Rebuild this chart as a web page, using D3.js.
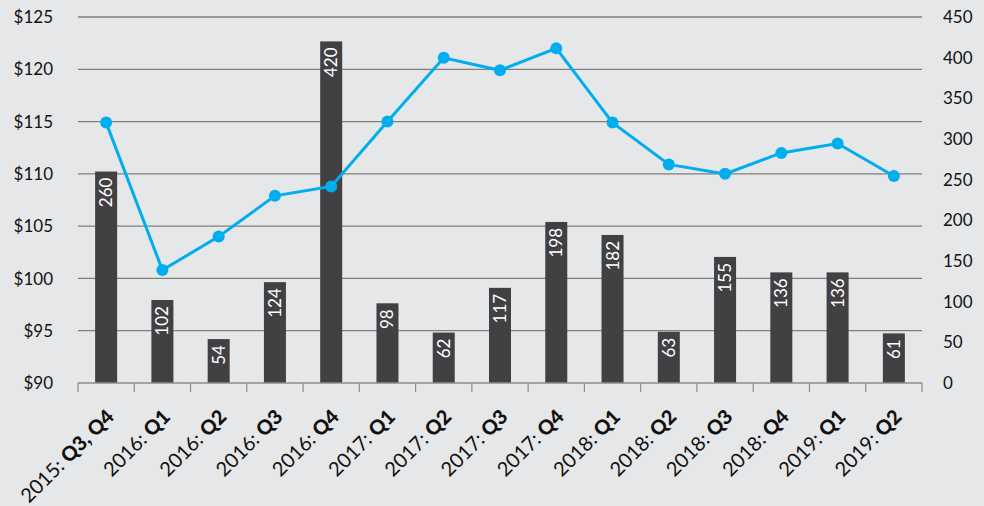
<!DOCTYPE html>
<html><head><meta charset="utf-8">
<script src="https://cdn.jsdelivr.net/npm/d3@7"></script>
<style>
html,body{margin:0;padding:0;background:#e6e7e9;}
svg{display:block;font-family:"Lato","Noto Sans",sans-serif;}
</style></head>
<body>
<svg id="c" width="984" height="506"></svg>
<script>
const yearLabels = ["2015: ","2016: ","2016: ","2016: ","2016: ","2017: ","2017: ","2017: ","2017: ","2018: ","2018: ","2018: ","2018: ","2019: ","2019: "];
const quarterLabels = ["Q3, Q4","Q1","Q2","Q3","Q4","Q1","Q2","Q3","Q4","Q1","Q2","Q3","Q4","Q1","Q2"];
const barValues = [260,102,54,124,420,98,62,117,198,182,63,155,136,136,61];
const lineValues = [114.9,100.8,104.0,107.9,108.8,115.0,121.1,119.9,122.0,114.9,110.9,110.0,112.0,112.9,109.8];
const leftTicks = [90,95,100,105,110,115,120,125];
const rightTicks = [0,50,100,150,200,250,300,350,400,450];

const svg = d3.select("#c");
const m = {l:78, r:922, t:17, b:383};
const idx = d3.range(barValues.length);
const xb = d3.scaleBand().domain(idx).range([m.l, m.r]);
const yL = d3.scaleLinear().domain([90,125]).range([m.b, m.t]);
const yR = d3.scaleLinear().domain([0,450]).range([m.b, m.t]);

// gridlines
svg.append("g").selectAll("line").data(leftTicks.slice(1)).join("line")
  .attr("x1", m.l).attr("x2", m.r)
  .attr("y1", d=>yL(d)).attr("y2", d=>yL(d))
  .attr("stroke", "#7f7f7f").attr("stroke-width", 1.3);

// left axis labels
svg.append("g").selectAll("text").data(leftTicks).join("text")
  .attr("x", 53).attr("y", d=>yL(d)).attr("dy","0.36em")
  .attr("text-anchor","end").attr("font-size",17).attr("fill","#111")
  .text(d=>"$"+d);

// right axis labels
svg.append("g").selectAll("text").data(rightTicks).join("text")
  .attr("x", 943).attr("y", d=>yR(d)).attr("dy","0.36em")
  .attr("text-anchor","start").attr("font-size",17).attr("fill","#111")
  .text(d=>d);

// bars
svg.append("g").selectAll("rect").data(barValues).join("rect")
  .attr("x", (d,i)=>xb(i)+xb.bandwidth()/2-11).attr("width", 22)
  .attr("y", d=>yR(d)).attr("height", d=>m.b-yR(d))
  .attr("fill", "#414042");

// bar labels
svg.append("g").selectAll("text").data(barValues).join("text")
  .attr("transform", (d,i)=>`translate(${xb(i)+xb.bandwidth()/2+6},${yR(d)+6}) rotate(-90)`)
  .attr("text-anchor","end").attr("font-size",17).attr("fill","#fff")
  .text(d=>d);

// x axis
const xa = svg.append("g");
xa.append("line").attr("x1", m.l).attr("x2", m.r).attr("y1", m.b).attr("y2", m.b)
  .attr("stroke","#8c8c8c").attr("stroke-width",1.5);
const bounds = idx.map(i=>xb(i)).concat([m.r]);
xa.selectAll("line.t").data(bounds).join("line").attr("class","t")
  .attr("x1", d=>d).attr("x2", d=>d).attr("y1", m.b).attr("y2", m.b+9)
  .attr("stroke","#8c8c8c").attr("stroke-width",1.2);

// x labels
const xl = svg.append("g").selectAll("text").data(idx).join("text")
  .attr("transform", i=>`translate(${xb(i)+xb.bandwidth()/2+9},${m.b+35}) rotate(-45)`)
  .attr("text-anchor","end").attr("font-size",20).attr("fill","#111");
xl.append("tspan").text(i=>yearLabels[i]);
xl.append("tspan").attr("font-weight","900").text(i=>quarterLabels[i]);

// line
const line = d3.line().x((d,i)=>xb(i)+xb.bandwidth()/2).y(d=>yL(d));
svg.append("path").datum(lineValues).attr("d", line)
  .attr("fill","none").attr("stroke","#00adef").attr("stroke-width",3);
svg.append("g").selectAll("circle").data(lineValues).join("circle")
  .attr("cx", (d,i)=>xb(i)+xb.bandwidth()/2).attr("cy", d=>yL(d)).attr("r",6)
  .attr("fill","#00adef");
</script>
</body></html>
